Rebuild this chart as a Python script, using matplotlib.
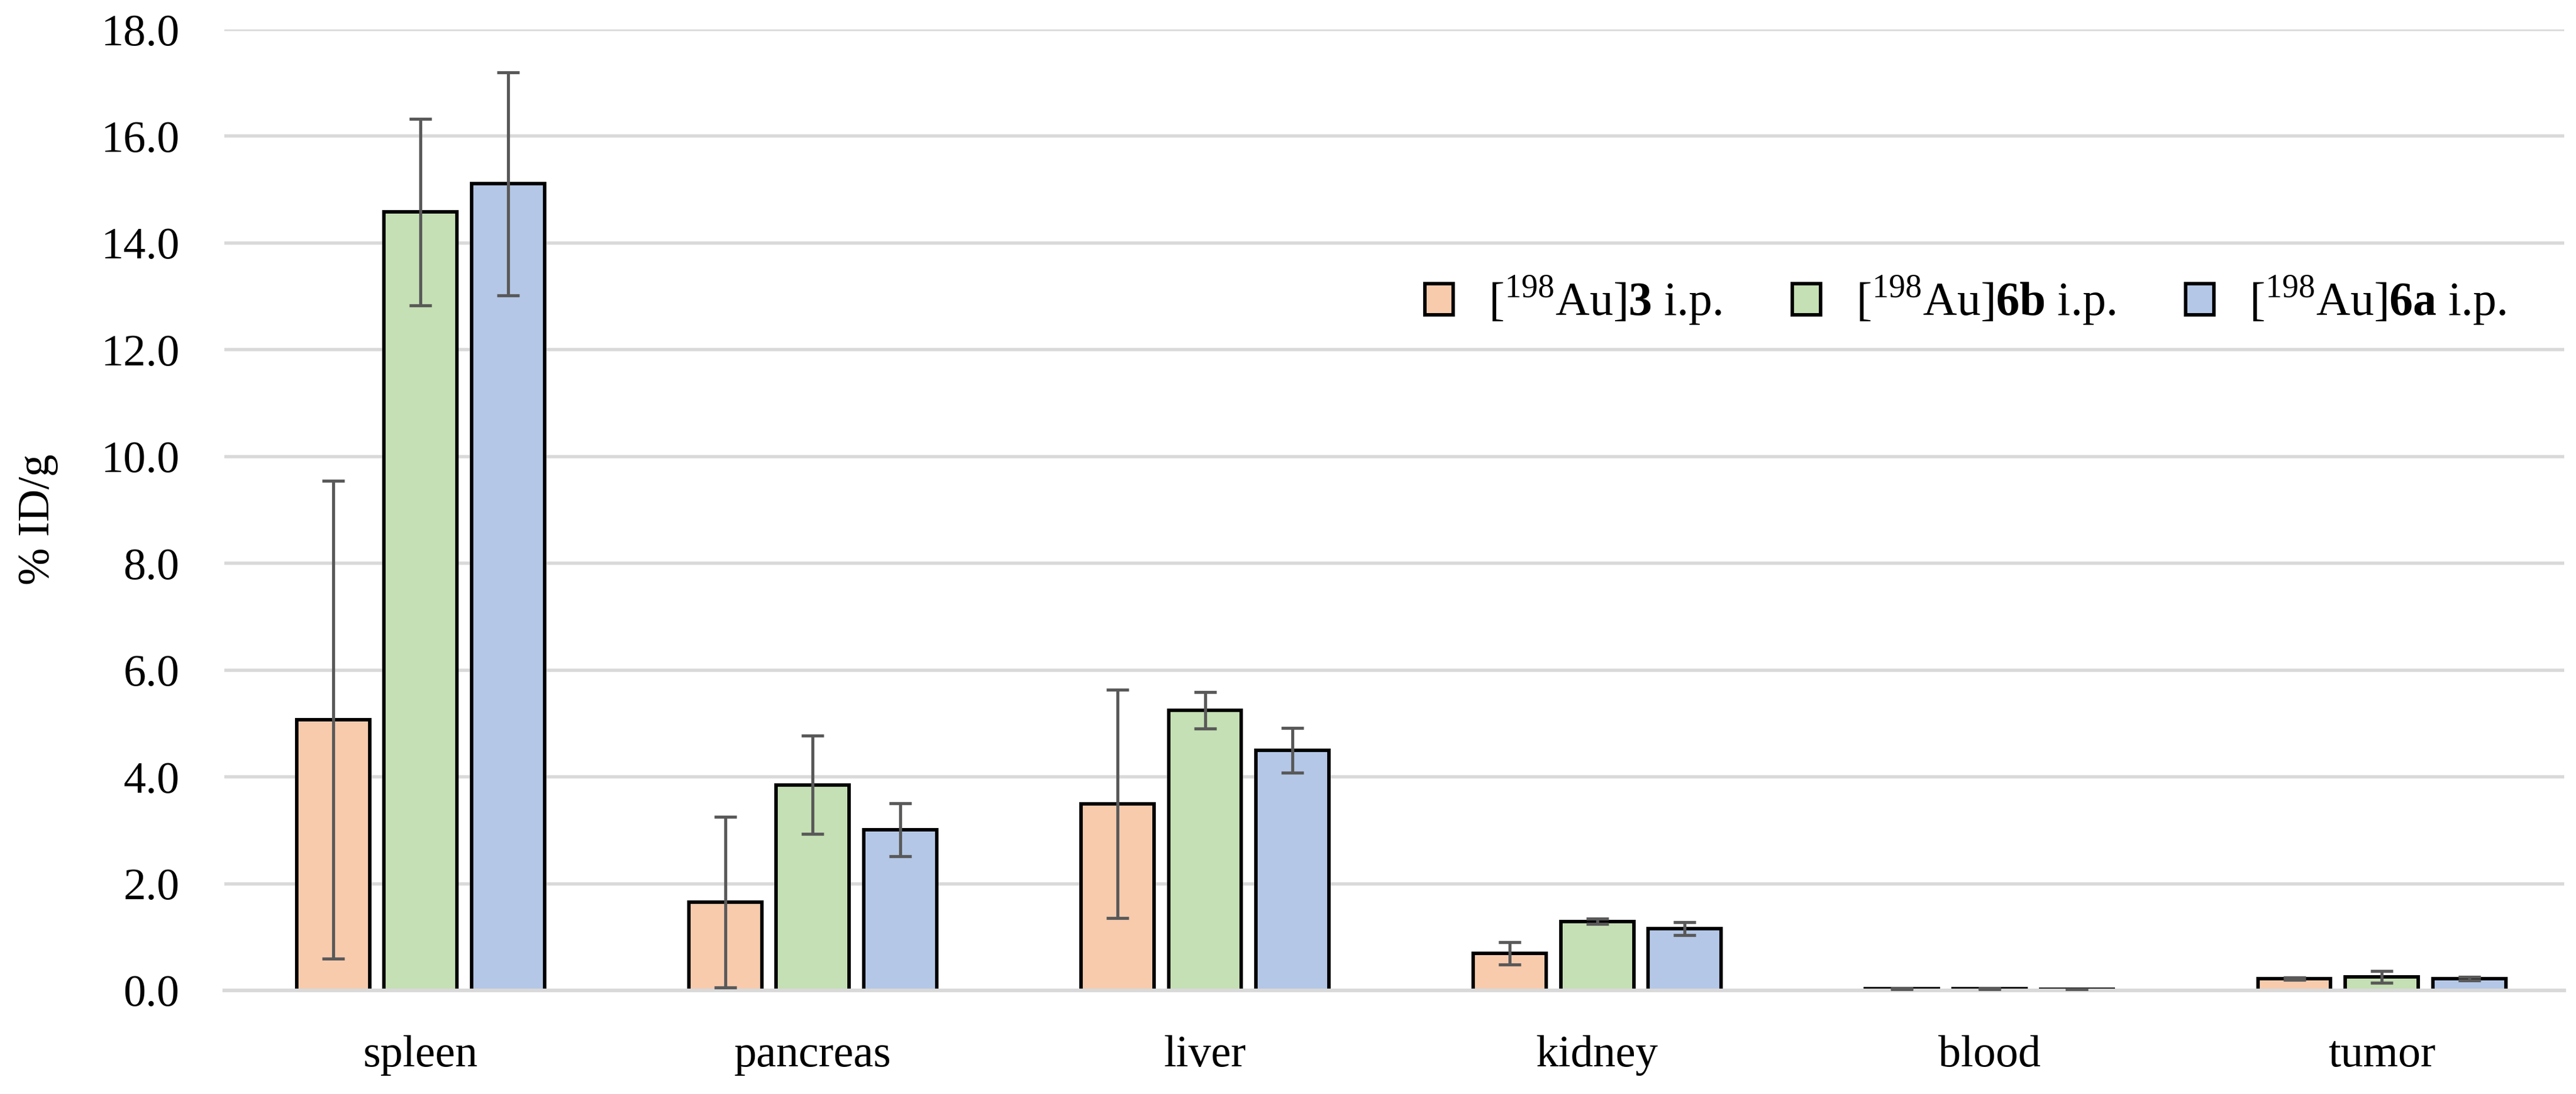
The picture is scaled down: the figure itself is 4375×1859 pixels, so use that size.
import numpy as np
import matplotlib.pyplot as plt

plt.rcParams['font.family'] = ['Liberation Serif', 'DejaVu Serif']
plt.rcParams['mathtext.fontset'] = 'custom'
plt.rcParams['mathtext.rm'] = 'Liberation Serif'
plt.rcParams['mathtext.bf'] = 'Liberation Serif:bold'

organs = ["spleen", "pancreas", "liver", "kidney", "blood", "tumor"]

au3_mean = [5.07, 1.65, 3.49, 0.69, 0.03, 0.22]
au3_err = [4.47, 1.60, 2.14, 0.21, 0.01, 0.02]

au6b_mean = [14.58, 3.85, 5.25, 1.29, 0.03, 0.25]
au6b_err = [1.75, 0.92, 0.34, 0.05, 0.01, 0.11]

au6a_mean = [15.11, 3.01, 4.50, 1.16, 0.02, 0.22]
au6a_err = [2.09, 0.50, 0.42, 0.12, 0.005, 0.03]

labels = [r"[$^{198}$Au]$\mathbf{3}$ i.p.",
          r"[$^{198}$Au]$\mathbf{6b}$ i.p.",
          r"[$^{198}$Au]$\mathbf{6a}$ i.p."]
colors = ["#F8CBAD", "#C5E0B4", "#B4C7E7"]

fig = plt.figure(figsize=(17.5, 7.436), dpi=250)
ax = fig.add_axes([0.0871, 0.0947, 0.9083, 0.8784])

x = np.arange(len(organs))
width = 0.186
step = 0.223
series = [(au3_mean, au3_err), (au6b_mean, au6b_err), (au6a_mean, au6a_err)]
for i, (m, e) in enumerate(series):
    ax.bar(x + (i - 1) * step, m, width, yerr=e, color=colors[i],
           edgecolor="black", linewidth=1.7, label=labels[i], zorder=2,
           error_kw=dict(ecolor="#595959", elinewidth=1.5, capsize=5.5,
                         capthick=1.5, zorder=3))

ax.set_ylim(0, 18)
ax.set_xlim(-0.5, 5.465)
ax.set_yticks(np.arange(0, 18.1, 2))
ax.set_yticklabels([f"{v:.1f}" for v in np.arange(0, 18.1, 2)])
ax.set_xticks(x)
ax.set_xticklabels(organs)
ax.tick_params(axis="both", length=0, labelsize=22)
ax.tick_params(axis="y", pad=22)
ax.tick_params(axis="x", pad=22)

ax.grid(axis="y", color="#D9D9D9", linewidth=1.6, zorder=0)
ax.set_axisbelow(True)
for s in ["top", "right", "left"]:
    ax.spines[s].set_visible(False)
ax.spines["bottom"].set_color("#D9D9D9")
ax.spines["bottom"].set_linewidth(1.8)

ax.set_ylabel("% ID/g", fontsize=22)
ax.yaxis.set_label_coords(-0.071, 0.49)

ax.legend(loc="center left", bbox_to_anchor=(0.503, 0.718), ncol=3,
          frameon=False, fontsize=23, borderpad=0, handlelength=0.6,
          handleheight=0.65, handletextpad=0.75, columnspacing=1.5)

fig.savefig("out.png", dpi=250)
